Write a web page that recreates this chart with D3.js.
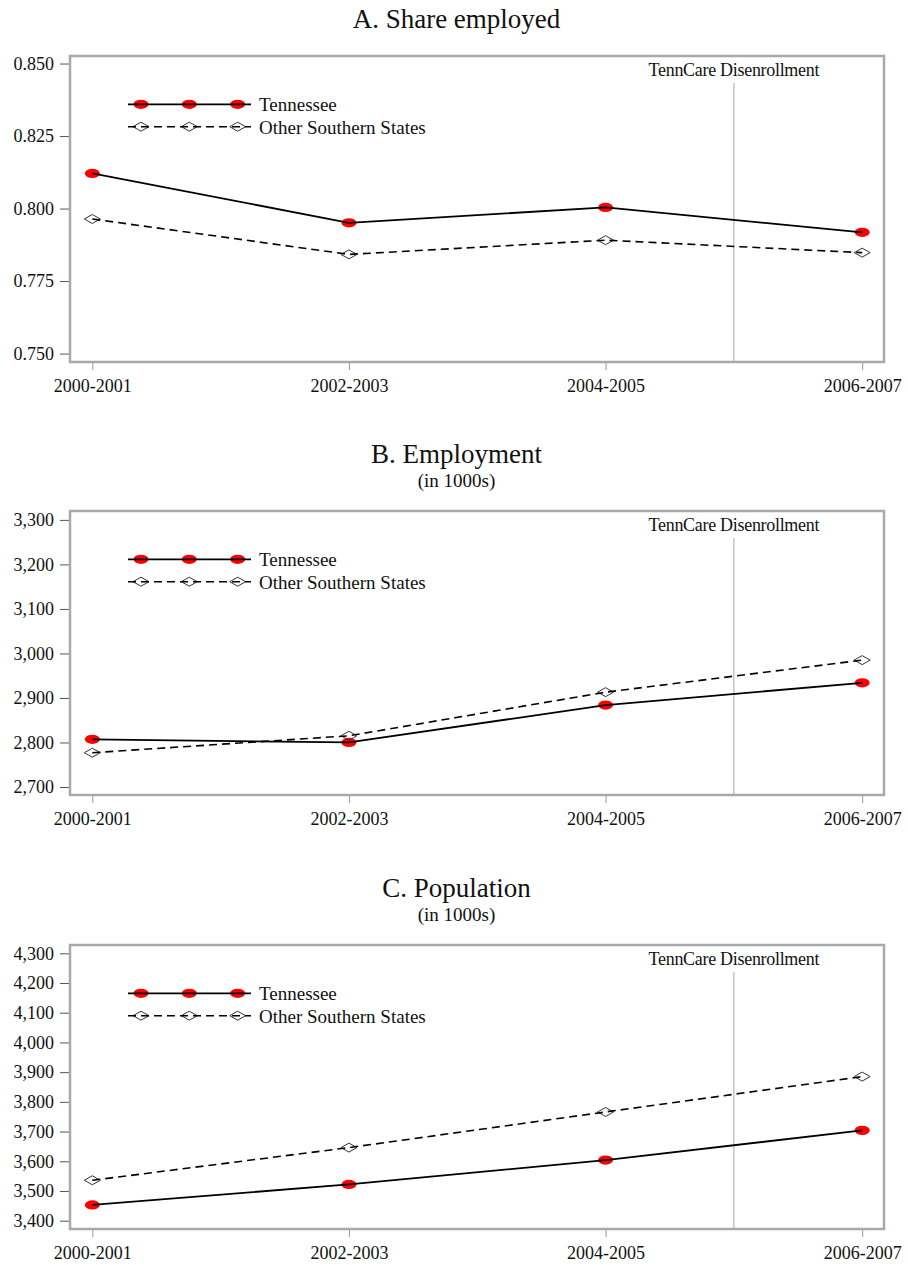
<!DOCTYPE html>
<html>
<head>
<meta charset="utf-8">
<script src="https://cdn.jsdelivr.net/npm/d3@7"></script>
<style>
	html, body { margin: 0; padding: 0; background: #fff; }
	svg { display: block; font-family: "Liberation Serif", "DejaVu Serif", serif; }
</style>
</head>
<body>
<svg id="chart" width="908" height="1265"></svg>
<script>
// data
var periods = ['2000-2001', '2002-2003', '2004-2005', '2006-2007'];
var seriesNames = ['Tennessee', 'Other Southern States'];
var eventLabel = 'TennCare Disenrollment';
var eventAt = 2.5; // halfway between 2004-2005 and 2006-2007

var shareTN = [0.8121, 0.7951, 0.8004, 0.7918];
var shareOther = [0.7964, 0.7842, 0.7891, 0.7848];
var shareTicks = [0.750, 0.775, 0.800, 0.825, 0.850];

var empTN = [2807, 2800, 2884, 2934];
var empOther = [2777, 2815, 2913, 2985];
var empTicks = [2700, 2800, 2900, 3000, 3100, 3200, 3300];

var popTN = [3453, 3522, 3604, 3704];
var popOther = [3536, 3646, 3766, 3885];
var popTicks = [3400, 3500, 3600, 3700, 3800, 3900, 4000, 4100, 4200, 4300];

var panels = [
	{title: 'A. Share employed', sub: null, titleY: 28, top: 56, bottom: 362,
		domain: [0.7471, 0.8526], ticks: shareTicks, fmt: d3.format('.3f'), tn: shareTN, other: shareOther},
	{title: 'B. Employment', sub: '(in 1000s)', titleY: 463, top: 511, bottom: 795,
		domain: [2682, 3320], ticks: empTicks, fmt: d3.format(','), tn: empTN, other: empOther},
	{title: 'C. Population', sub: '(in 1000s)', titleY: 897, top: 945, bottom: 1229,
		domain: [3372, 4328], ticks: popTicks, fmt: d3.format(','), tn: popTN, other: popOther}
];

var left = 70, right = 884, centerX = 456.5;
var frameColor = '#a6a9ad';
var svg = d3.select('#chart');

var x = d3.scaleLinear().domain([-0.087, 3.085]).range([left, right]);

function diamond(g, cx, cy) {
	g.append('path')
		.attr('d', 'M' + (cx - 8) + ',' + cy + 'L' + cx + ',' + (cy - 4.5) + 'L' + (cx + 8) + ',' + cy + 'L' + cx + ',' + (cy + 4.5) + 'Z')
		.attr('fill', 'none')
		.attr('stroke', '#333')
		.attr('stroke-width', 1);
}

function dot(g, cx, cy) {
	g.append('ellipse')
		.attr('cx', cx).attr('cy', cy)
		.attr('rx', 7.5).attr('ry', 4.6)
		.attr('fill', '#ff0000');
}

panels.forEach(function(p) {
	var g = svg.append('g');
	var y = d3.scaleLinear().domain(p.domain).range([p.bottom, p.top]);

	// titles
	g.append('text')
		.attr('x', centerX).attr('y', p.titleY)
		.attr('text-anchor', 'middle')
		.attr('font-size', 27)
		.attr('fill', '#111')
		.text(p.title);
	if (p.sub) {
		g.append('text')
			.attr('x', centerX).attr('y', p.titleY + 24)
			.attr('text-anchor', 'middle')
			.attr('font-size', 19)
			.attr('fill', '#111')
			.text(p.sub);
	}

	// event marker
	g.append('line')
		.attr('x1', x(eventAt)).attr('x2', x(eventAt))
		.attr('y1', p.top + 27).attr('y2', p.bottom)
		.attr('stroke', '#a8a8a8')
		.attr('stroke-width', 1);
	g.append('text')
		.attr('x', x(eventAt)).attr('y', p.top + 20)
		.attr('text-anchor', 'middle')
		.attr('font-size', 18)
		.attr('letter-spacing', '-0.3px')
		.attr('fill', '#111')
		.text(eventLabel);

	// axes
	var yAxis = g.append('g')
		.attr('transform', 'translate(' + left + ',0)')
		.call(d3.axisLeft(y).tickValues(p.ticks).tickFormat(p.fmt).tickSize(10).tickPadding(6));
	yAxis.select('.domain').remove();
	yAxis.selectAll('line').attr('stroke', '#555');
	yAxis.selectAll('text').attr('font-size', 18).attr('fill', '#111')
		.attr('font-family', '"Liberation Serif", serif');

	var xAxis = g.append('g')
		.attr('transform', 'translate(0,' + p.bottom + ')')
		.call(d3.axisBottom(x).tickValues([0, 1, 2, 3]).tickFormat(function(i) { return periods[i]; }).tickSize(8).tickPadding(9));
	xAxis.select('.domain').remove();
	xAxis.selectAll('line').attr('stroke', '#999');
	xAxis.selectAll('text').attr('font-size', 18).attr('fill', '#111')
		.attr('font-family', '"Liberation Serif", serif');

	// frame
	g.append('rect')
		.attr('x', left).attr('y', p.top)
		.attr('width', right - left).attr('height', p.bottom - p.top)
		.attr('fill', 'none')
		.attr('stroke', frameColor)
		.attr('stroke-width', 2.5);

	// series
	var line = d3.line()
		.x(function(d, i) { return x(i); })
		.y(function(d) { return y(d); });

	p.tn.forEach(function(v, i) { dot(g, x(i), y(v)); });
	p.other.forEach(function(v, i) { diamond(g, x(i), y(v)); });

	g.append('path')
		.datum(p.other)
		.attr('fill', 'none')
		.attr('stroke', '#000')
		.attr('stroke-width', 1.6)
		.attr('stroke-dasharray', '8,5')
		.attr('d', line);
	g.append('path')
		.datum(p.tn)
		.attr('fill', 'none')
		.attr('stroke', '#000')
		.attr('stroke-width', 1.8)
		.attr('d', line);

	// legend
	var rows = [p.top + 48.3, p.top + 70.7];
	var lx = [128, 251], marks = [141, 189.3, 237.7];
	rows.forEach(function(ry, k) {
		marks.forEach(function(mx) {
			if (k === 0) dot(g, mx, ry); else diamond(g, mx, ry);
		});
		g.append('line')
			.attr('x1', lx[0]).attr('x2', lx[1])
			.attr('y1', ry).attr('y2', ry)
			.attr('stroke', '#000')
			.attr('stroke-width', k === 0 ? 1.8 : 1.6)
			.attr('stroke-dasharray', k === 0 ? null : '8,5');
		g.append('text')
			.attr('x', 259).attr('y', ry + 7)
			.attr('font-size', 19)
			.attr('fill', '#111')
			.text(seriesNames[k]);
	});
});
</script>
</body>
</html>
